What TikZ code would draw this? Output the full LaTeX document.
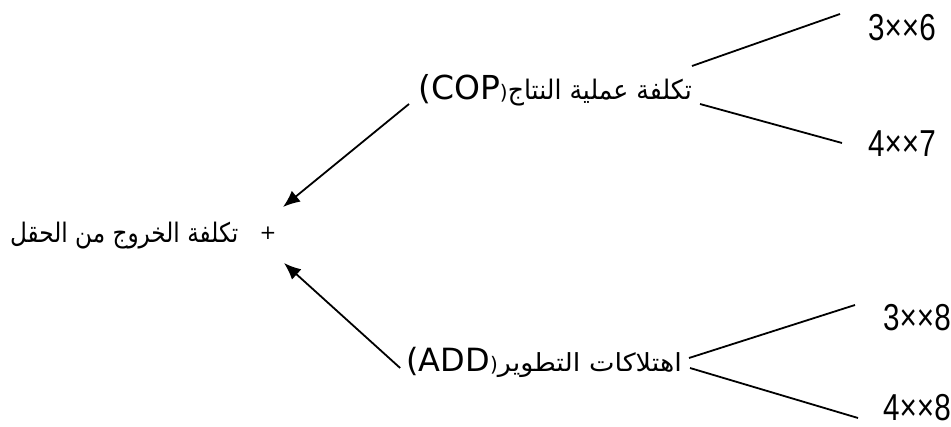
\documentclass[tikz,border=0pt]{standalone}
\usepackage{fontspec}
\usepackage{graphicx}
\usetikzlibrary{arrows.meta}
\TeXXeTstate=1
\newfontfamily\arabicfont[Script=Arabic]{DejaVu Sans}
\newfontfamily\latinfont{DejaVu Sans}
\newfontfamily\numfont[FakeStretch=0.79]{Liberation Sans}

\begin{document}
\begin{tikzpicture}[x=1pt,y=-1pt,
		lbl/.style={inner sep=0pt},
		num/.style={inner sep=0pt,anchor=west,font=\numfont\fontsize{37.5}{40}\selectfont},
		conn/.style={line width=1.8pt},
		arr/.style={conn,-{Latex[length=17pt,width=14pt]}}]
		\useasboundingbox (0,0) rectangle (951,427);
		% left side
		\node[lbl,anchor=base west] (exit) at (10,243) {\resizebox*{228pt}{27pt}{\arabicfont\beginR تكلفة الخروج من الحقل\endR}};
		\node[lbl,font=\latinfont\fontsize{20}{24}\selectfont] (plus) at (268,233) {+};
		% the two branches
		\node[lbl,anchor=base east] (cop) at (692,100) {\latinfont\fontsize{33}{36}\selectfont (COP{\fontsize{20}{24}\selectfont)}\resizebox*{184pt}{27pt}{\arabicfont\beginR تكلفة عملية النتاج\endR}};
		\node[lbl,anchor=base east] (add) at (682,372) {\latinfont\fontsize{32}{36}\selectfont (ADD{\fontsize{20}{24}\selectfont)}\resizebox*{184pt}{25pt}{\arabicfont\beginR اهتلاكات التطوير\endR}};
		% values
		\node[num] (c1) at (868,28) {3××6};
		\node[num] (c2) at (868,144) {4××7};
		\node[num] (a1) at (883,318) {3××8};
		\node[num] (a2) at (883,408) {4××8};
		\draw[arr] ([shift={(-9,4)}]cop.base west) -- ([shift={(15,-26)}]plus.center);
		\draw[arr] ([shift={(-6,-4)}]add.base west) -- ([shift={(16,30)}]plus.center);
		\draw[conn] ([shift={(0,-34)}]cop.base east) -- ([shift={(-28,-14)}]c1.west);
		\draw[conn] ([shift={(8,4)}]cop.base east) -- ([shift={(-26,-1)}]c2.west);
		\draw[conn] ([shift={(7,-14)}]add.base east) -- ([shift={(-28,-13)}]a1.west);
		\draw[conn] ([shift={(8,-4)}]add.base east) -- ([shift={(-25,10)}]a2.west);
	\end{tikzpicture}
\end{document}
